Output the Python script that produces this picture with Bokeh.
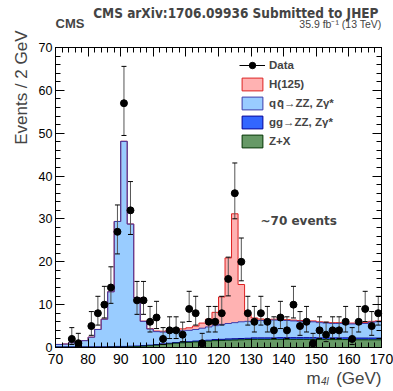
import math
import numpy as np
from bokeh.plotting import figure
from bokeh.models import Range1d, FixedTicker, LinearAxis, Label, Legend, LegendItem
from bokeh.embed import file_html
from bokeh.resources import INLINE

# ---- data (2 GeV bins from 70 to 170) ----
bin_lo = list(range(70, 170, 2))

data_counts = [0, 0, 2, 1, 0, 5, 8, 10, 14, 27,
               57, 32, 11, 11, 6, 7, 2, 4, 4, 3,
               9, 8, 1, 6, 6, 8, 16, 36, 20, 8,
               6, 8, 6, 4, 7, 4, 10, 5, 6, 1,
               4, 3, 4, 4, 6, 2, 6, 9, 5, 8]

zx_vals = [0.05, 0.05, 0.05, 0.05, 0.05, 0.05, 0.05, 0.05, 0.1, 0.1,
           0.1, 0.15, 0.2, 0.3, 0.4, 0.55, 0.7, 0.85, 1.0, 1.1,
           1.2, 1.3, 1.4, 1.5, 1.6, 1.65, 1.7, 1.75, 1.8, 1.85,
           1.9, 1.9, 1.9, 1.9, 1.9, 1.9, 1.9, 1.9, 1.9, 1.9,
           1.85, 1.85, 1.85, 1.85, 1.85, 1.8, 1.8, 1.8, 1.8, 1.8]

gg_vals = [0.1, 0.1, 0.1, 0.1, 0.1, 0.1, 0.1, 0.1, 0.1, 0.15,
           0.15, 0.15, 0.15, 0.15, 0.15, 0.15, 0.15, 0.15, 0.15, 0.15,
           0.15, 0.2, 0.2, 0.2, 0.25, 0.25, 0.3, 0.3, 0.3, 0.3,
           0.35, 0.35, 0.35, 0.35, 0.4, 0.4, 0.4, 0.4, 0.4, 0.4,
           0.4, 0.4, 0.4, 0.4, 0.4, 0.4, 0.4, 0.4, 0.4, 0.4]

qq_vals = [0.55, 0.65, 0.95, 1.05, 1.45, 2.25, 4.05, 6.45, 12.8, 29.15,
           47.85, 28.5, 11.25, 5.65, 3.75, 3.0, 2.75, 2.7, 2.65, 2.65,
           2.65, 2.7, 2.9, 3.1, 3.25, 3.5, 3.6, 3.75, 3.9, 3.95,
           3.95, 4.05, 4.05, 4.15, 4.1, 4.0, 3.9, 3.8, 3.7, 3.7,
           3.55, 3.45, 3.35, 3.35, 3.25, 3.3, 3.3, 3.4, 3.7, 3.8]

h_vals = [0.02, 0.02, 0.02, 0.02, 0.02, 0.02, 0.02, 0.02, 0.02, 0.02,
          0.02, 0.02, 0.02, 0.05, 0.1, 0.15, 0.2, 0.3, 0.35, 0.45,
          0.6, 0.8, 1.2, 1.8, 3.1, 6.4, 15.3, 25.4, 8.7, 1.7,
          0.7, 0.35, 0.25, 0.2, 0.2, 0.2, 0.2, 0.2, 0.2, 0.2,
          0.2, 0.2, 0.2, 0.2, 0.2, 0.2, 0.2, 0.2, 0.2, 0.2]

x_ticks = [70, 80, 90, 100, 110, 120, 130, 140, 150, 160, 170]
y_ticks = [0, 10, 20, 30, 40, 50, 60, 70]
x_minor = list(range(70, 171, 2))
y_minor = list(range(0, 71, 2))

# ---- Poisson (Garwood) intervals ----
def pois_cdf(n, mu):
    if mu <= 0:
        return 1.0
    s = 0.0
    for k in range(n + 1):
        s += math.exp(-mu + k * math.log(mu) - math.lgamma(k + 1))
    return s

def solve(f, target, lo, hi):
    for _ in range(80):
        mid = 0.5 * (lo + hi)
        if f(mid) > target:
            lo = mid
        else:
            hi = mid
    return 0.5 * (lo + hi)

alpha = 0.158655
def garwood(n):
    hi_lim = n + 10 * math.sqrt(n + 1) + 10
    up = solve(lambda m: pois_cdf(n, m), alpha, 0.0, hi_lim)
    lo = 0.0 if n == 0 else solve(lambda m: pois_cdf(n - 1, m), 1 - alpha, 0.0, hi_lim)
    return lo, up

# ---- geometry: the frame fills the canvas; axes sit at fixed locations ----
W, H = 393, 391
FL, FR, FT, FB = 55, 381, 47, 347          # pixel box of the visible axes frame
XA, XB, YA, YB = 70.0, 170.0, 0.0, 70.0
sx = (FR - FL) / (XB - XA)
sy = (FB - FT) / (YB - YA)
x_range = Range1d(XA - FL / sx, XB + (W - FR) / sx)
y_range = Range1d(YA - (H - FB) / sy, YB + FT / sy)

p = figure(width=W, height=H, x_range=x_range, y_range=y_range,
           toolbar_location=None, output_backend="svg", min_border=0)
p.grid.visible = False
p.outline_line_color = None
p.background_fill_color = "white"
p.border_fill_color = "white"

edges = np.array(bin_lo + [170], dtype=float)
comps = np.vstack([zx_vals, gg_vals, qq_vals, h_vals])
tops = np.cumsum(comps, axis=0)
bots = np.vstack([np.zeros(len(bin_lo)), tops[:-1]])

def ext(a):
    return np.append(a, a[-1])

fills = ["#669966", "#3366ff", "#99ccff", "#ffb2b2"]
lines = ["#003300", "#000099", "#3c3caa", "#dd2222"]
for i in range(4):
    p.varea_step(x=edges, y1=ext(bots[i]), y2=ext(tops[i]), step_mode="after",
                 fill_color=fills[i], fill_alpha=1.0)
for i in [3, 2, 1, 0]:
    p.step(x=edges, y=ext(tops[i]), mode="after", line_color=lines[i], line_width=1)

# legend-only proxies (not shown on the plot; they carry the histogram data)
proxies = []
for i in range(4):
    proxies.append(p.quad(left=edges[:-1], right=edges[1:], bottom=bots[i], top=tops[i],
                          fill_color=fills[i], line_color=lines[i], line_width=1, visible=False))

# data points
cx, cy, elo, ehi = [], [], [], []
for lo_edge, n in zip(bin_lo, data_counts):
    if n > 0:
        lo, up = garwood(n)
        cx.append(lo_edge + 1.0)
        cy.append(n)
        elo.append(lo)
        ehi.append(up)

p.segment(x0=cx, y0=elo, x1=cx, y1=ehi, line_color="#555555", line_width=1)
p.scatter(x=cx, y=ehi, marker="dash", size=5, line_color="black", line_width=1)
p.scatter(x=cx, y=elo, marker="dash", size=5, line_color="black", line_width=1)
r_data = p.scatter(x=cx, y=cy, marker="circle", size=7, fill_color="black", line_color="black")
r_vline = p.vspan(x=cx, line_color="black", line_width=1, visible=False)

# ---- axes ----
def conf(ax, ticker, loc, bounds, tin=9, mtin=5):
    ax.ticker = ticker
    ax.fixed_location = loc
    ax.bounds = bounds
    ax.major_tick_in = tin
    ax.major_tick_out = 0
    ax.minor_tick_in = mtin
    ax.minor_tick_out = 0
    ax.axis_line_color = "black"
    ax.major_tick_line_color = "black"
    ax.minor_tick_line_color = "black"
    ax.major_label_text_font = "Liberation Sans"
    ax.major_label_text_color = "black"

xb = p.xaxis[0]
conf(xb, FixedTicker(ticks=x_ticks, minor_ticks=x_minor), YA, (XA, XB))
xb.major_label_text_font_size = "14px"
xb.major_label_standoff = 6
yl = p.yaxis[0]
conf(yl, FixedTicker(ticks=y_ticks, minor_ticks=y_minor), XA, (YA, YB))
yl.major_label_text_font_size = "12.5px"
yl.major_label_standoff = 3

# top and right: tick marks only (long ones for the major positions)
for minors, length, side, loc, bnd in [(x_minor, 5, "above", YB, (XA, XB)),
                                       (x_ticks, 9, "above", YB, (XA, XB)),
                                       (y_minor, 5, "right", XB, (YA, YB)),
                                       (y_ticks, 9, "right", XB, (YA, YB))]:
    ax = LinearAxis()
    conf(ax, FixedTicker(ticks=[], minor_ticks=minors), loc, bnd, tin=0, mtin=length)
    p.add_layout(ax, side)

# ---- legend ----
legend = Legend(items=[
    LegendItem(label="Data", renderers=[r_vline, r_data]),
    LegendItem(label="H(125)", renderers=[proxies[3]]),
    LegendItem(label="q\u200aq\u0304\u2192ZZ, Z\u03b3*", renderers=[proxies[2]]),
    LegendItem(label="gg\u2192ZZ, Z\u03b3*", renderers=[proxies[1]]),
    LegendItem(label="Z+X", renderers=[proxies[0]]),
], location=(239, H - 149), padding=0, margin=0, spacing=3,
   glyph_width=26, glyph_height=16, label_height=16, label_standoff=4,
   label_text_font="Liberation Sans", label_text_font_style="bold",
   label_text_font_size="11.5px", border_line_alpha=0, background_fill_alpha=0,
   inactive_fill_alpha=0)
p.add_layout(legend)

# ---- texts (screen coordinates: x from left, y from bottom of the canvas) ----
def lab(x, y, text, **kw):
    p.add_layout(Label(x=x, y=H - y, x_units="screen", y_units="screen", text=text, **kw))

lab(378, 12, "CMS arXiv:1706.09936 Submitted to JHEP", text_font="DejaVu Sans Condensed",
    text_font_style="bold", text_font_size="13.5px", text_align="right", text_baseline="alphabetic")
lab(55, 23, "CMS", text_font="Liberation Sans", text_font_style="bold", text_font_size="13px",
    text_align="left", text_baseline="alphabetic")
lab(381, 23, "35.9 fb\u207b\u00b9 (13 TeV)", text_font="Liberation Sans", text_font_size="10.5px",
    text_align="right", text_baseline="alphabetic")
lab(260, 220, "~70 events", text_font="DejaVu Sans", text_font_style="bold", text_font_size="12px",
    text_align="left", text_baseline="alphabetic")
lab(21, 30, "Events / 2 GeV", text_font="Liberation Sans", text_font_size="17px",
    text_align="right", text_baseline="alphabetic", angle=math.pi / 2)
lab(306, 378, "m", text_font="Liberation Sans", text_font_size="17px",
    text_align="left", text_baseline="alphabetic")
lab(320.5, 381, "4l", text_font="Liberation Sans", text_font_style="italic", text_font_size="10px",
    text_align="left", text_baseline="alphabetic")
lab(381, 378, "(GeV)", text_font="Liberation Sans", text_font_size="17px",
    text_align="right", text_baseline="alphabetic")

open("out.html", "w").write(file_html(p, INLINE))
